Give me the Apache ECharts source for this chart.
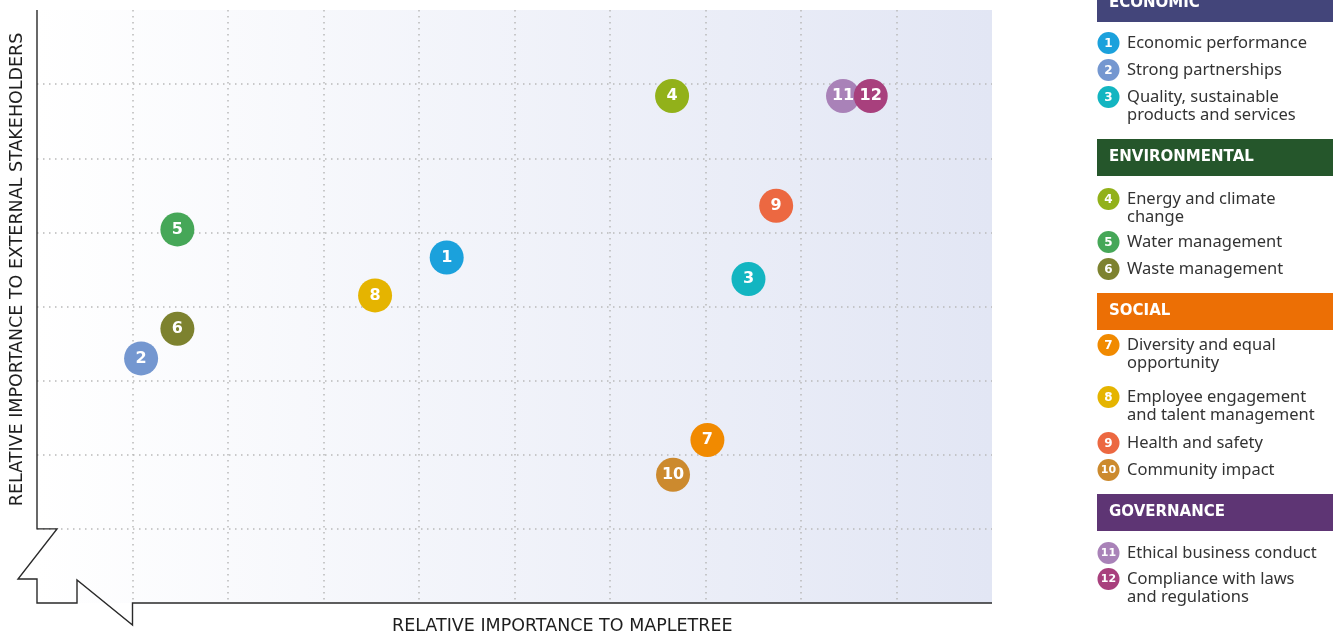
<!DOCTYPE html>
<html><head><meta charset="utf-8">
<script src="https://cdn.jsdelivr.net/npm/echarts@6/dist/echarts.min.js"></script>
<style>html,body{margin:0;padding:0;background:#fff;overflow:hidden}#c{width:1336px;height:635px}</style>
</head><body><div id="c"></div>
<script>
// ---- data ----
const ids = ['1','2','3','4','5','6','7','8','9','10','11','12'];
const xValues = [4.29, 1.09, 7.45, 6.65, 1.47, 1.47, 7.02, 3.54, 7.74, 6.66, 8.44, 8.73];
const yValues = [4.66, 3.30, 4.37, 6.84, 5.04, 3.70, 2.20, 4.15, 5.36, 1.73, 6.84, 6.84];
const topicNames = [
  'Economic performance', 'Strong partnerships', 'Quality, sustainable\nproducts and services',
  'Energy and climate\nchange', 'Water management', 'Waste management',
  'Diversity and equal\nopportunity', 'Employee engagement\nand talent management', 'Health and safety', 'Community impact',
  'Ethical business conduct', 'Compliance with laws\nand regulations'
];
const topicColors = ['#1ba1dc','#7497d0','#13b5c1','#92b11a','#46a758','#7d822f','#f18a00','#e5b400','#ec6841','#cc8a2e','#a982b8','#a8407d'];
const groupNames = ['ECONOMIC','ENVIRONMENTAL','SOCIAL','GOVERNANCE'];
const groupColors = ['#43457a','#25562b','#ec6f05','#5e3574'];
const groupMembers = [[0,1,2],[3,4,5],[6,7,8,9],[10,11]];
const xAxisTitle = 'RELATIVE IMPORTANCE TO MAPLETREE';
const yAxisTitle = 'RELATIVE IMPORTANCE TO EXTERNAL STAKEHOLDERS';

// ---- layout (not data) ----
const headerTops = [-15, 139, 293, 494];
const itemCenters = [43, 70, 97, 199, 242, 269, 345, 397, 443, 470, 553, 579];
const LEG_X = 1097, LEG_W = 236, HDR_H = 37, LINE_H = 18;
const bodyFont = '16.5px "Noto Sans", sans-serif';
const titleFont = '17.5px "DejaVu Sans", sans-serif';

const chart = echarts.init(document.getElementById('c'), null, {renderer: 'canvas'});

const gridLine = {show: true, lineStyle: {color: '#b9b9b9', width: 1.5, type: [1.5, 4.5]}, showMinLine: false, showMaxLine: false};

chart.setOption({
  animation: false,
  grid: {
    left: 37, right: 344, top: 10, bottom: 32, show: true, borderWidth: 0,
    backgroundColor: {type: 'linear', x: 0, y: 0, x2: 1, y2: 0,
      colorStops: [{offset: 0, color: '#ffffff'}, {offset: 1, color: '#e2e6f4'}]}
  },
  xAxis: {type: 'value', min: 0, max: 10, interval: 1,
    axisLine: {show: false}, axisTick: {show: false}, axisLabel: {show: false}, splitLine: gridLine},
  yAxis: {type: 'value', min: 0, max: 8, interval: 1,
    axisLine: {show: false}, axisTick: {show: false}, axisLabel: {show: false}, splitLine: gridLine},
  series: [{
    type: 'scatter',
    symbolSize: 34,
    data: ids.map((id, i) => ({
      value: [xValues[i], yValues[i]], name: id,
      itemStyle: {color: topicColors[i], opacity: 1}
    })),
    label: {show: true, position: 'inside', formatter: p => p.name,
      color: '#fff', fontWeight: 'bold', fontSize: 16, fontFamily: '"DejaVu Sans", sans-serif'},
    emphasis: {disabled: true}
  }]
});

// Build decorations from the grid's scale
const P = (x, y) => chart.convertToPixel({gridIndex: 0}, [x, y]);
const O = P(0, 0), U = P(1, 1), TL = P(0, 8), BR = P(10, 0);
const outline = [
  [O[0], TL[1]], [O[0], U[1]], [O[0] + 20, U[1]], [O[0] - 19, O[1] - 24], [O[0], O[1] - 24],
  [O[0], O[1]], [O[0] + 40, O[1]], [O[0] + 40, O[1] - 23], [U[0], O[1] + 22], [U[0], O[1]], [BR[0], O[1]]
];

const graphics = [];
graphics.push({type: 'polyline', shape: {points: outline}, style: {stroke: '#2a2a2a', lineWidth: 1.4, fill: null}, z: 10, silent: true});
graphics.push({type: 'text', x: (U[0] + BR[0]) / 2, y: O[1] + 23, z: 10,
  style: {text: xAxisTitle, font: titleFont, fill: '#1e1e1e', align: 'center', verticalAlign: 'middle', textAlign: 'center', textVerticalAlign: 'middle'}});
graphics.push({type: 'text', x: 17, y: (TL[1] + U[1]) / 2, rotation: Math.PI / 2, z: 10,
  style: {text: yAxisTitle, font: titleFont, fill: '#1e1e1e', align: 'center', verticalAlign: 'middle', textAlign: 'center', textVerticalAlign: 'middle'}});

groupNames.forEach((g, gi) => {
  const top = headerTops[gi];
  graphics.push({type: 'rect', shape: {x: LEG_X, y: top, width: LEG_W, height: HDR_H}, style: {fill: groupColors[gi]}});
  graphics.push({type: 'text', x: LEG_X + 12, y: top + HDR_H / 2,
    style: {text: g, font: 'bold 15px "DejaVu Sans", sans-serif', fill: '#fff', align: 'left', verticalAlign: 'middle', textAlign: 'left', textVerticalAlign: 'middle'}});
  groupMembers[gi].forEach(i => {
    const cy = itemCenters[i];
    graphics.push({type: 'circle', shape: {cx: LEG_X + 11.5, cy: cy, r: 11}, style: {fill: topicColors[i]}});
    graphics.push({type: 'text', x: LEG_X + 11.5, y: cy + 0.5,
      style: {text: ids[i], font: 'bold ' + (ids[i].length > 1 ? 11 : 12) + 'px "DejaVu Sans", sans-serif', fill: '#fff', align: 'center', verticalAlign: 'middle', textAlign: 'center', textVerticalAlign: 'middle'}});
    graphics.push({type: 'text', x: LEG_X + 30, y: cy - LINE_H / 2,
      style: {text: topicNames[i], font: bodyFont, lineHeight: LINE_H, fill: '#333', align: 'left', verticalAlign: 'top', textAlign: 'left', textVerticalAlign: 'top'}});
  });
});

chart.setOption({graphic: {elements: graphics}});
</script>
</body></html>
